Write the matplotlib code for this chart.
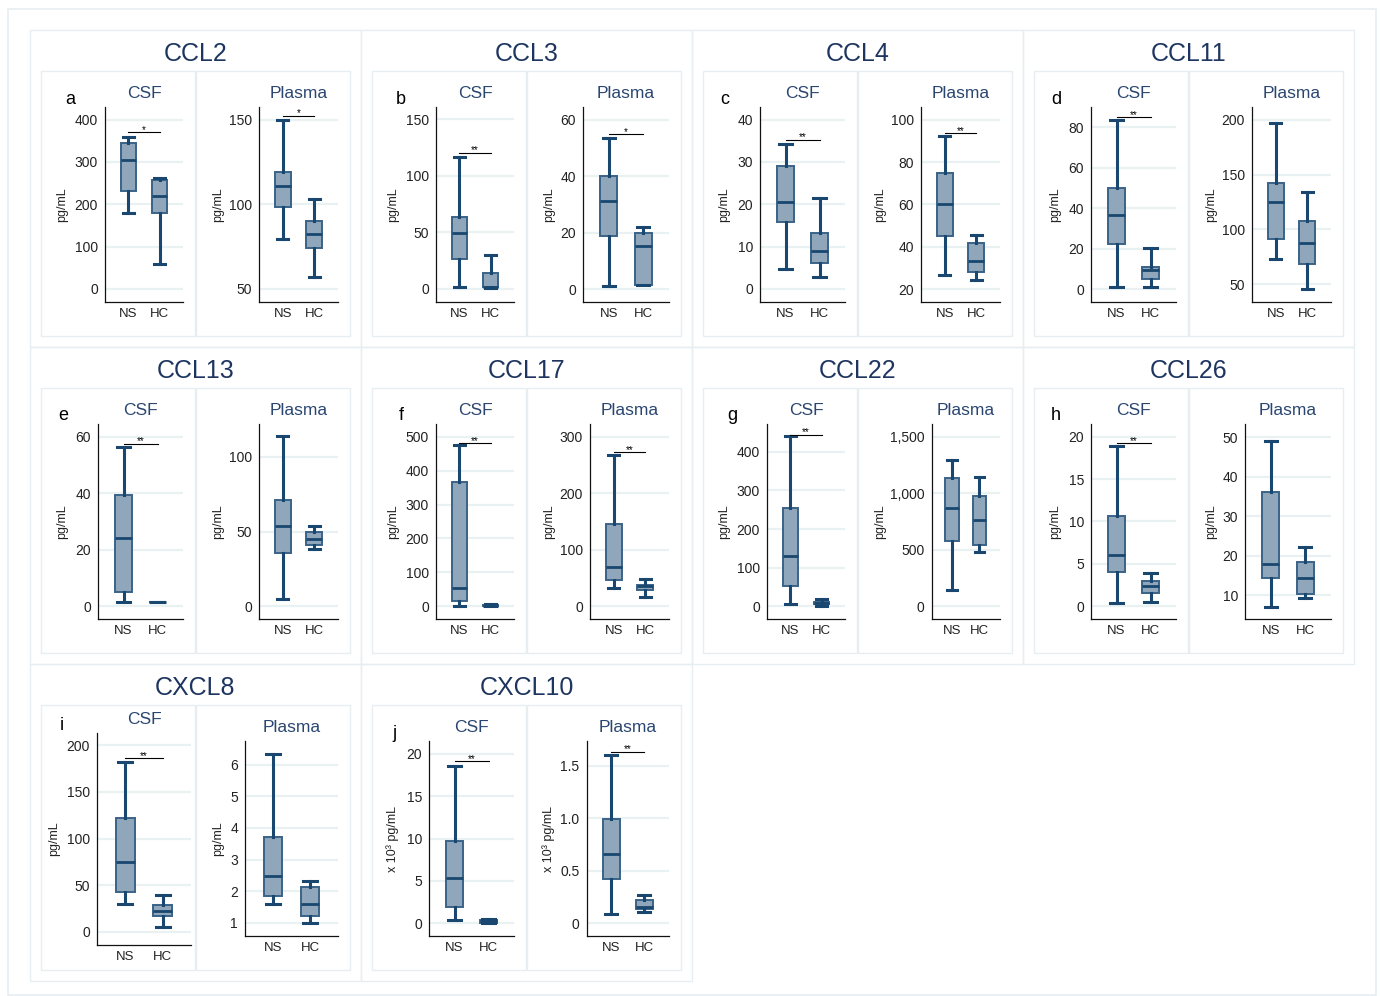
import matplotlib.pyplot as plt
from matplotlib.patches import Rectangle

plt.rcParams['font.family'] = ['Liberation Sans', 'DejaVu Sans']

# ---- data ----
chemokines = ['CCL2', 'CCL3', 'CCL4', 'CCL11', 'CCL13',
              'CCL17', 'CCL22', 'CCL26', 'CXCL8', 'CXCL10']
letters = ['a', 'b', 'c', 'd', 'e', 'f', 'g', 'h', 'i', 'j']
groups = ['NS', 'HC']
units = ['pg/mL'] * 9 + ['x 10³ pg/mL']

# (whisker low, Q1, median, Q3, whisker high)
csf_ns = [(179, 232, 304, 345, 358), (1.5, 26.6, 49.6, 63.5, 116.6),
          (4.8, 15.8, 20.5, 29.1, 34.3), (1.2, 22.1, 36.5, 49.8, 83.8),
          (1.5, 5.2, 24.3, 39.4, 56.5), (2, 15.7, 55, 367, 475),
          (6.9, 53.6, 131, 255, 441), (0.43, 4.0, 6.0, 10.6, 18.9),
          (29.6, 42.8, 75.2, 121.9, 181.5), (0.39, 1.96, 5.3, 9.7, 18.6)]
csf_hc = [(60, 179, 219, 258, 261), (1, 1.5, 1.5, 14.5, 30.4),
          (2.9, 6.1, 8.9, 13.3, 21.6), (1.2, 4.9, 9.6, 11.1, 20.3),
          (1.5, 1.5, 1.5, 1.5, 1.5), (0.5, 1, 2, 4, 7.9),
          (0.5, 7, 9.5, 12, 18), (0.51, 1.54, 2.45, 3.04, 3.9),
          (5.7, 17.1, 22.1, 29.2, 39.9), (0.0, 0.08, 0.24, 0.43, 0.5)]
plasma_ns = [(79.7, 98.4, 110.6, 118.9, 150), (1.2, 18.8, 31.3, 40.2, 53.4),
             (26.8, 44.9, 60, 74.6, 92.1), (72.8, 91, 125.3, 142, 197.3),
             (5.1, 35.6, 53.5, 71.1, 113.9), (33.1, 47.3, 70.3, 145.9, 267),
             (145, 577, 873, 1133, 1298), (7.0, 14.4, 17.9, 36.2, 49.1),
             (1.6, 1.83, 2.48, 3.71, 6.33), (0.085, 0.418, 0.658, 0.987, 1.604)]
plasma_hc = [(56.9, 74.2, 82.3, 90, 103.3), (1.5, 1.5, 15.4, 20, 22.1),
             (24.1, 28, 33.5, 41.6, 45.4), (45.4, 68.5, 87.4, 108, 134.4),
             (38.3, 40.9, 45, 49.4, 53.9), (17.1, 28.4, 35.4, 38.4, 48.4),
             (479, 541, 766, 979, 1148), (9.3, 10.3, 14.4, 18.4, 22.1),
             (1.0, 1.2, 1.6, 2.13, 2.31), (0.108, 0.133, 0.155, 0.222, 0.266)]

csf_ticks = [[0, 100, 200, 300, 400], [0, 50, 100, 150], [0, 10, 20, 30, 40],
             [0, 20, 40, 60, 80], [0, 20, 40, 60], [0, 100, 200, 300, 400, 500],
             [0, 100, 200, 300, 400], [0, 5, 10, 15, 20],
             [0, 50, 100, 150, 200], [0, 5, 10, 15, 20]]
plasma_ticks = [[50, 100, 150], [0, 20, 40, 60], [20, 40, 60, 80, 100],
                [50, 100, 150, 200], [0, 50, 100], [0, 100, 200, 300],
                [0, 500, 1000, 1500], [10, 20, 30, 40, 50],
                [1, 2, 3, 4, 5, 6], [0, 0.5, 1.0, 1.5]]
csf_ylim = [(-31, 430), (-11.5, 161), (-3.1, 43), (-6.4, 90), (-4.5, 64.5),
            (-37, 537), (-33, 472), (-1.5, 21.5), (-14, 213), (-1.5, 21.5)]
plasma_ylim = [(42.3, 157.5), (-4.6, 64.5), (13.9, 106), (33.9, 211.6),
               (-8.5, 122), (-22.4, 322.5), (-112, 1615), (4.0, 53.3),
               (0.58, 6.75), (-0.123, 1.734)]
# significance bar height and label (None = no bar)
csf_sig = [(371, '*'), (120.5, '**'), (35.3, '**'), (85.1, '**'), (57.5, '**'),
           (481, '**'), (444, '**'), (19.2, '**'), (186, '**'), (19.1, '**')]
plasma_sig = [(152.4, '*'), (54.9, '*'), (93.7, '**'), None, None,
              (272.9, '**'), None, None, None, (1.633, '**')]

# ---- style ----
W, H = 1380, 996
NAVY = '#1A476F'
FILL = '#8FA6BB'
EDGE = '#3A6388'
GRID = '#EAF1F3'
FRAME = '#E6EEF1'
TITLE = '#1E3560'
SUB = '#2A4670'


def frect(x, y, w, h):
    return [x / W, 1 - (y + h) / H, w / W, h / H]


def fx(x):
    return x / W


def fy(y):
    return 1 - y / H


def fmt(v, ticks):
    if any(t != int(t) for t in ticks):
        return '0' if v == 0 else f'{v:.1f}'
    return f'{v:,.0f}'


def label_width(ticks):
    s = max((fmt(t, ticks) for t in ticks), key=len)
    return sum(0.5 if c in ',.' else 1 for c in s)


def draw_box(ax, ns, hc, ticks, ylim, sig):
    stats = [dict(whislo=s[0], q1=s[1], med=s[2], q3=s[3], whishi=s[4], fliers=[])
             for s in (ns, hc)]
    ax.bxp(stats, positions=[1, 2], widths=0.5, capwidths=0.36,
           patch_artist=True, showfliers=False,
           boxprops=dict(facecolor=FILL, edgecolor=EDGE, linewidth=1.4),
           whiskerprops=dict(color=NAVY, linewidth=2.2),
           capprops=dict(color=NAVY, linewidth=2.2),
           medianprops=dict(color=NAVY, linewidth=2.0))
    ax.set_xlim(0.25, 2.75)
    ax.set_ylim(*ylim)
    ax.set_yticks(ticks)
    ax.set_yticklabels([fmt(t, ticks) for t in ticks])
    ax.set_xticks([1, 2])
    ax.set_xticklabels(groups)
    ax.yaxis.grid(True, color=GRID, linewidth=1.6)
    ax.set_axisbelow(True)
    for side in ('top', 'right'):
        ax.spines[side].set_visible(False)
    for side in ('left', 'bottom'):
        ax.spines[side].set_linewidth(0.9)
        ax.spines[side].set_color('#111111')
    ax.tick_params(axis='both', length=0, colors='#222222')
    ax.tick_params(axis='y', pad=5, labelsize=10)
    ax.tick_params(axis='x', pad=4, labelsize=9.5)
    if sig is not None:
        ax.plot([1, 2], [sig[0], sig[0]], color='black', linewidth=0.8)
        ax.annotate(sig[1], (1.5, sig[0]), xytext=(0, -0.5),
                    textcoords='offset points', ha='center', va='baseline',
                    fontsize=7, color='black')


fig = plt.figure(figsize=(W / 100, H / 100), dpi=100)

# outer frame
fig.patches.append(Rectangle((fx(8), fy(995)), fx(1368), 986 / H, transform=fig.transFigure,
                             fill=False, edgecolor=FRAME, linewidth=1.2))

for i, name in enumerate(chemokines):
    col, row = i % 4, i // 4
    x0 = 30 + 331 * col
    y0 = 30 + 317 * row

    # frames of the panel and its two sub-panels
    for (bx, by, bw, bh) in [(x0, y0, 331, 317), (x0 + 11, y0 + 41, 154, 265),
                             (x0 + 166, y0 + 41, 154, 265)]:
        fig.patches.append(Rectangle((fx(bx), fy(by + bh)), bw / W, bh / H,
                                     transform=fig.transFigure, fill=False,
                                     edgecolor=FRAME, linewidth=1.0))

    fig.text(fx(x0 + 165.5), fy(y0 + 24), name, fontsize=18, color=TITLE,
             ha='center', va='center')

    # CSF axes
    if i == 8:
        cl, cr, ct, cb, ylx = x0 + 67, x0 + 161, y0 + 69, y0 + 281, x0 + 24
    else:
        cl = x0 + 54 + 7 * label_width(csf_ticks[i])
        cr, ct, cb, ylx = x0 + 153, y0 + 77, y0 + 272, x0 + 32
    ax1 = fig.add_axes(frect(cl, ct, cr - cl, cb - ct))
    draw_box(ax1, csf_ns[i], csf_hc[i], csf_ticks[i], csf_ylim[i], csf_sig[i])
    fig.text(fx((cl + cr) / 2), fy(ct - 14), 'CSF', fontsize=12.5, color=SUB,
             ha='center', va='center')
    fig.text(fx(ylx), fy((ct + cb) / 2), units[i], rotation=90, fontsize=9,
             ha='center', va='center', color='#222222')
    fig.text(fx(cl - 35), fy(ct - 8), letters[i], fontsize=13, ha='center',
             va='center', color='black')

    # Plasma axes
    pl = x0 + 208 + 7 * label_width(plasma_ticks[i])
    pr, pt, pb = x0 + 308, y0 + 77, y0 + 272
    ax2 = fig.add_axes(frect(pl, pt, pr - pl, pb - pt))
    draw_box(ax2, plasma_ns[i], plasma_hc[i], plasma_ticks[i], plasma_ylim[i],
             plasma_sig[i])
    fig.text(fx((pl + pr) / 2), fy(pt - 14), 'Plasma', fontsize=12.5, color=SUB,
             ha='center', va='center')
    fig.text(fx(x0 + 188), fy((pt + pb) / 2), units[i], rotation=90, fontsize=9,
             ha='center', va='center', color='#222222')

fig.savefig('out.png', dpi=100)
